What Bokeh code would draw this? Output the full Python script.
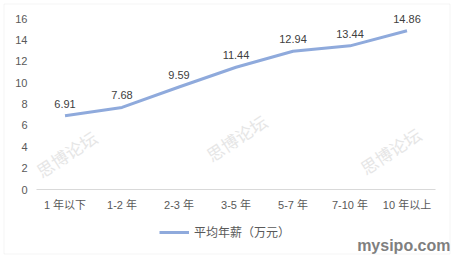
from bokeh.plotting import figure
from bokeh.models import ColumnDataSource, Label, BoxAnnotation, Legend, LegendItem, Range1d, FixedTicker
from bokeh.core.properties import value
from bokeh.embed import file_html
from bokeh.resources import INLINE

categories = ["1 年以下", "1-2 年", "2-3 年", "3-5 年", "5-7 年", "7-10 年", "10 年以上"]
salary = [6.91, 7.68, 9.59, 11.44, 12.94, 13.44, 14.86]
labels = ["6.91", "7.68", "9.59", "11.44", "12.94", "13.44", "14.86"]
series_name = "平均年薪（万元）"
y_ticks = [0, 2, 4, 6, 8, 10, 12, 14, 16]

FONT = "'Liberation Sans', 'Noto Sans CJK SC', sans-serif"
W, H = 454, 258
BAND = 57.0          # px per category
LEFT = 36.0          # px, left edge of category axis
Y0 = 189.0           # px, where value 0 sits
PX_PER_UNIT = 171.0 / 16

xpos = [i + 0.5 for i in range(len(categories))]
src = ColumnDataSource(dict(x=xpos, y=salary, lab=labels))

x_range = Range1d(-LEFT / BAND, (W - LEFT) / BAND)
y_range = Range1d(-(H - Y0) / PX_PER_UNIT, Y0 / PX_PER_UNIT)

p = figure(width=W, height=H, x_range=x_range, y_range=y_range,
           output_backend="svg", toolbar_location=None,
           min_border=0, min_border_left=0, min_border_right=0,
           min_border_top=0, min_border_bottom=0)
p.outline_line_color = None
p.background_fill_color = "white"
p.border_fill_color = "white"
p.xgrid.visible = False
p.ygrid.visible = False

r = p.line("x", "y", source=src, line_color="#8FAADC", line_width=3)
p.text("x", "y", text="lab", source=src, text_align="center", text_baseline="alphabetic",
       y_offset=-12, text_font=value(FONT), text_font_size="11px", text_color="#404040")

p.yaxis.fixed_location = 0
p.yaxis.ticker = FixedTicker(ticks=y_ticks)
p.yaxis.axis_line_color = None
p.yaxis.major_tick_line_color = None
p.yaxis.minor_tick_line_color = None
p.yaxis.major_tick_out = 0
p.yaxis.major_tick_in = 0
p.yaxis.major_label_text_font = FONT
p.yaxis.major_label_text_font_size = "11px"
p.yaxis.major_label_text_color = "#595959"
p.yaxis.major_label_standoff = 9

p.xaxis.fixed_location = 0
p.xaxis.ticker = FixedTicker(ticks=xpos)
p.xaxis.major_label_overrides = {x: c for x, c in zip(xpos, categories)}
p.xaxis.bounds = (0, len(categories))
p.xaxis.axis_line_color = "#d9d9d9"
p.xaxis.axis_line_width = 1
p.xaxis.major_tick_line_color = None
p.xaxis.minor_tick_line_color = None
p.xaxis.major_tick_out = 0
p.xaxis.major_tick_in = 0
p.xaxis.major_label_text_font = FONT
p.xaxis.major_label_text_font_size = "11px"
p.xaxis.major_label_text_color = "#595959"
p.xaxis.major_label_standoff = 9

# watermarks (canvas px: x from left, y from bottom)
for wx, wy in [(67, 103), (237, 119), (391, 106)]:
    p.add_layout(Label(x=wx, y=wy, x_units="screen", y_units="screen", text="思博论坛",
                       angle=0.576, text_align="center", text_baseline="middle",
                       text_font=FONT, text_font_size="17px", text_color="#e6e6e6"))

p.add_layout(Label(x=450, y=13, x_units="screen", y_units="screen", text="mysipo.com",
                   text_align="right", text_baseline="middle",
                   text_font="'Liberation Sans Narrow', 'Liberation Sans', sans-serif",
                   text_font_style="bold", text_font_size="16px", text_color="#7f7f7f"))

legend = Legend(items=[LegendItem(label=series_name, renderers=[r])],
                location=(159, 18), orientation="horizontal",
                background_fill_alpha=0, border_line_color=None,
                label_text_font=FONT, label_text_font_size="12px", label_text_color="#595959",
                glyph_width=30, glyph_height=14, label_height=14, label_standoff=5,
                padding=0, margin=0)
p.add_layout(legend, "center")

p.add_layout(BoxAnnotation(left=3.5, right=449.5, top=254.5, bottom=4.5,
                           left_units="screen", right_units="screen",
                           top_units="screen", bottom_units="screen",
                           fill_alpha=0, line_color="#d9d9d9", line_width=1))

open("out.html", "w").write(file_html(p, INLINE))
